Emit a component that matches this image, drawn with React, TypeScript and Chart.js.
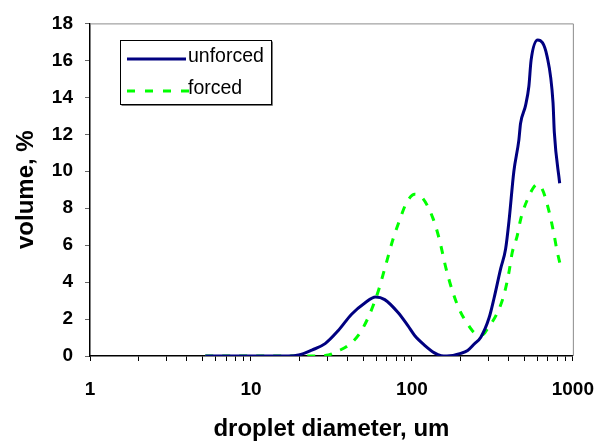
import React, { useEffect, useRef } from "react";
import { Chart, registerables } from "chart.js";

Chart.register(...registerables);

const unforcedX = [5.2, 8, 12, 17, 19.8, 23.9, 28.9, 34.9, 42.2, 51, 59.4, 67.8, 82, 94.4, 104, 120, 138, 152, 165, 201, 222, 244, 268, 302, 324, 356, 382, 401, 430, 462, 473, 508, 533, 550, 605, 692, 753, 767, 828];
const unforcedY = [0, 0, 0, 0, 0.05, 0.32, 0.67, 1.38, 2.26, 2.87, 3.19, 3.05, 2.35, 1.64, 1.11, 0.58, 0.17, 0.02, 0, 0.14, 0.3, 0.65, 1.02, 2.08, 3.14, 4.73, 5.79, 7.3, 10.0, 11.7, 12.58, 13.55, 14.6, 16.0, 17.1, 16.2, 13.7, 12.1, 9.35];

const forcedX = [5.2, 10, 15, 20, 25, 30.3, 35, 40.3, 46.4, 53.5, 61.7, 67.8, 76.3, 84, 92.2, 104, 117, 135, 148, 163, 179, 197, 222, 250, 275, 294, 340, 373, 401, 420, 451, 473, 520, 600, 644, 708, 760, 797, 835];
const forcedY = [0, 0, 0, 0, 0, 0.05, 0.28, 0.58, 1.11, 2.08, 3.49, 4.73, 6.32, 7.37, 8.26, 8.75, 8.52, 7.46, 6.32, 4.73, 3.49, 2.52, 1.73, 1.2, 1.15, 1.46, 2.35, 3.3, 4.55, 5.6, 6.5, 7.37, 8.43, 9.28, 9.05, 7.9, 6.67, 5.7, 4.94];

const seriesNames = ["unforced", "forced"];
const xTickValues = [1, 2, 3, 4, 5, 6, 7, 8, 9, 10, 20, 30, 40, 50, 60, 70, 80, 90, 100, 200, 300, 400, 500, 600, 700, 800, 900, 1000];
const xLabeled = [1, 10, 100, 1000];

const FONT = "'Liberation Sans', Arial, sans-serif";
const BLUE = "#000080";
const GREEN = "#00FF00";

const framePlugin = {
  id: "frameAndLegend",
  afterDraw(chart: any) {
    const { ctx, chartArea } = chart;
    const { left, top, right, bottom } = chartArea;
    ctx.save();
    ctx.strokeStyle = "#8c8c8c";
    ctx.lineWidth = 1;
    ctx.beginPath();
    ctx.moveTo(left, top + 0.5);
    ctx.lineTo(right + 0.5, top + 0.5);
    ctx.lineTo(right + 0.5, bottom);
    ctx.stroke();

    const bx = 120.5, by = 40.5, bw = 151, bh = 64;
    ctx.fillStyle = "#ffffff";
    ctx.fillRect(bx, by, bw, bh);
    ctx.strokeStyle = "#7a7a7a";
    ctx.beginPath();
    ctx.moveTo(bx + bw + 1, by + 1);
    ctx.lineTo(bx + bw + 1, by + bh + 1);
    ctx.lineTo(bx + 1, by + bh + 1);
    ctx.stroke();
    ctx.strokeStyle = "#000000";
    ctx.strokeRect(bx, by, bw, bh);

    ctx.lineWidth = 3;
    ctx.strokeStyle = BLUE;
    ctx.setLineDash([]);
    ctx.beginPath();
    ctx.moveTo(127, 59);
    ctx.lineTo(186, 59);
    ctx.stroke();

    ctx.strokeStyle = GREEN;
    ctx.setLineDash([8, 10]);
    ctx.beginPath();
    ctx.moveTo(127, 91);
    ctx.lineTo(190, 91);
    ctx.stroke();
    ctx.setLineDash([]);

    ctx.fillStyle = "#000000";
    ctx.font = `19.5px ${FONT}`;
    ctx.textAlign = "left";
    ctx.textBaseline = "middle";
    ctx.fillText(seriesNames[0], 188, 57);
    ctx.fillText(seriesNames[1], 188, 89);
    ctx.restore();
  },
};

export default function App() {
  const canvasRef = useRef<HTMLCanvasElement | null>(null);

  useEffect(() => {
    document.body.style.margin = "0";
    const canvas = canvasRef.current;
    if (!canvas) return;
    const chart = new Chart(canvas, {
      type: "line",
      data: {
        datasets: [
          {
            label: seriesNames[0],
            data: unforcedX.map((x, i) => ({ x, y: unforcedY[i] })),
            borderColor: BLUE,
            borderWidth: 3,
            pointRadius: 0,
            cubicInterpolationMode: "monotone",
            fill: false,
          },
          {
            label: seriesNames[1],
            data: forcedX.map((x, i) => ({ x, y: forcedY[i] })),
            borderColor: GREEN,
            borderWidth: 3,
            borderDash: [8, 9],
            borderCapStyle: "butt",
            pointRadius: 0,
            cubicInterpolationMode: "monotone",
            fill: false,
          },
        ],
      },
      options: {
        animation: false,
        responsive: false,
        devicePixelRatio: 1,
        layout: { padding: { left: 0, top: 16, right: 33, bottom: 0 } },
        plugins: {
          legend: { display: false },
          tooltip: { enabled: false },
        },
        scales: {
          x: {
            type: "logarithmic",
            min: 1,
            max: 1000,
            afterBuildTicks: (scale: any) => {
              scale.ticks = xTickValues.map((v) => ({ value: v, major: xLabeled.includes(v) }));
            },
            afterFit: (scale: any) => {
              scale.height = 88;
            },
            grid: {
              drawOnChartArea: false,
              drawTicks: true,
              tickLength: 5,
              tickColor: "#000000",
            },
            border: { display: true, color: "#000000", width: 1.5 },
            ticks: {
              autoSkip: false,
              maxRotation: 0,
              minRotation: 0,
              padding: 17,
              color: "#000000",
              font: { family: FONT, size: 19, weight: "bold" },
              callback: (value: any) => (xLabeled.includes(Number(value)) ? String(value) : ""),
            },
            title: {
              display: true,
              text: "droplet diameter, um",
              color: "#000000",
              font: { family: FONT, size: 24, weight: "bold" },
              padding: { top: 1, bottom: 0 },
            },
          },
          y: {
            type: "linear",
            min: 0,
            max: 18,
            afterFit: (scale: any) => {
              scale.width = 90;
            },
            grid: {
              drawOnChartArea: false,
              drawTicks: true,
              tickLength: 5,
              tickColor: "#666666",
            },
            border: { display: true, color: "#000000", width: 1.5 },
            ticks: {
              stepSize: 2,
              padding: 12,
              color: "#000000",
              font: { family: FONT, size: 19, weight: "bold" },
            },
            title: {
              display: true,
              text: "volume, %",
              color: "#000000",
              font: { family: FONT, size: 24, weight: "bold" },
              padding: { top: 12, bottom: 0 },
            },
          },
        },
      },
      plugins: [framePlugin],
    } as any);
    return () => chart.destroy();
  }, []);

  return (
    <div style={{ position: "absolute", left: 0, top: 0, width: 611, height: 444, background: "#ffffff" }}>
      <canvas ref={canvasRef} width={611} height={444} style={{ display: "block" }} />
    </div>
  );
}
